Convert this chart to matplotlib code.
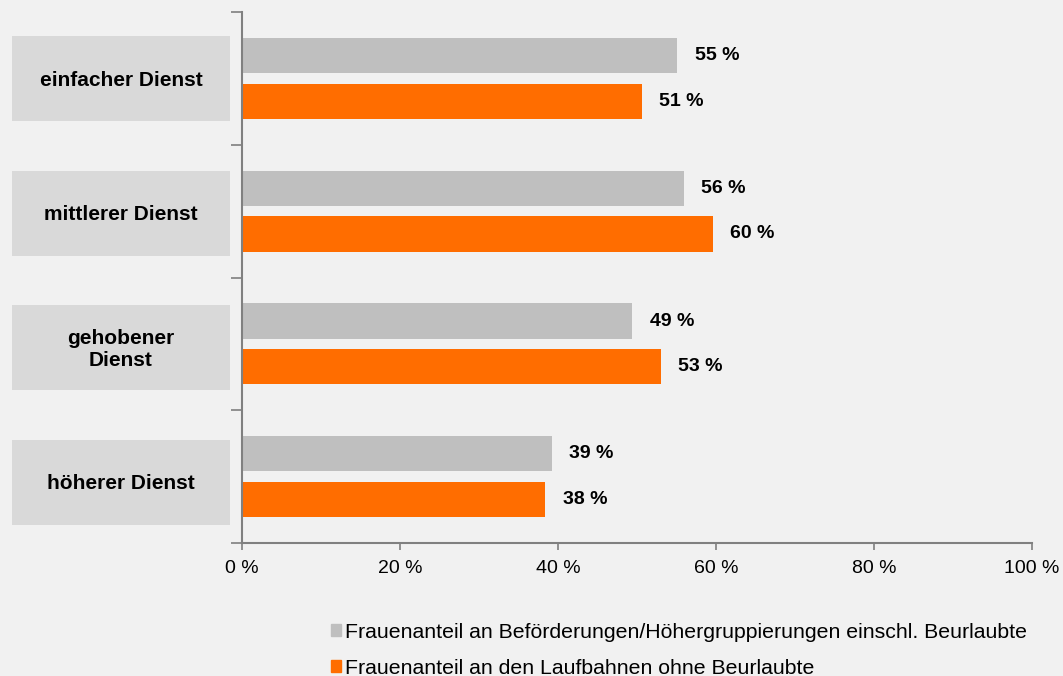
#!/usr/bin/env python3

import matplotlib.pyplot as plt
import matplotlib.transforms as mtransforms
from matplotlib.patches import Rectangle, Patch

plt.rcParams['font.family'] = ['Liberation Sans', 'DejaVu Sans']

categories = ['einfacher Dienst', 'mittlerer Dienst', 'gehobener\nDienst', 'höherer Dienst']
befoerderung = [55.1, 55.9, 49.4, 39.2]
laufbahn = [50.6, 59.6, 53.0, 38.4]
label_befoerderung = 'Frauenanteil an Beförderungen/Höhergruppierungen einschl. Beurlaubte'
label_laufbahn = 'Frauenanteil an den Laufbahnen ohne Beurlaubte'
xticks = [0, 20, 40, 60, 80, 100]

bg = '#f1f1f1'
gray = '#bfbfbf'
orange = '#ff6d00'

fig = plt.figure(figsize=(10.63, 6.76), dpi=100, facecolor=bg)
ax = fig.add_axes([242 / 1063, 1 - 543 / 676, 790 / 1063, 531 / 676])
ax.set_facecolor(bg)

ypos = list(range(len(categories)))
h = 0.265
off = 0.172
ax.barh([y - off for y in ypos], befoerderung, height=h, color=gray, label=label_befoerderung)
ax.barh([y + off for y in ypos], laufbahn, height=h, color=orange, label=label_laufbahn)

for y, v in zip(ypos, befoerderung):
    ax.text(v + 2.2, y - off, f'{v:.0f} %', va='center', ha='left', fontsize=14, fontweight='bold')
for y, v in zip(ypos, laufbahn):
    ax.text(v + 2.2, y + off, f'{v:.0f} %', va='center', ha='left', fontsize=14, fontweight='bold')

ax.set_xlim(0, 100)
ax.set_ylim(len(categories) - 0.5, -0.5)
ax.set_xticks(xticks)
ax.set_xticklabels([f'{t} %' for t in xticks], fontsize=14)
ax.set_yticks([y - 0.5 for y in range(len(categories) + 1)])
ax.set_yticklabels([])
ax.tick_params(axis='y', length=8, color='#808080', width=1.2)
ax.tick_params(axis='x', length=5, color='#808080', width=1.2, pad=7)
for s in ['top', 'right']:
    ax.spines[s].set_visible(False)
for s in ['left', 'bottom']:
    ax.spines[s].set_color('#808080')
    ax.spines[s].set_linewidth(1.5)

# grey boxes with the category names (slightly wider spacing than the bars)
trans = mtransforms.blended_transform_factory(ax.transAxes, ax.transData)
bx = (12 - 242) / 790
bw = 218 / 790
bh = 0.64
for y, name in zip(ypos, categories):
    yc = y * 1.013 + 0.004
    ax.add_patch(Rectangle((bx, yc - bh / 2), bw, bh, transform=trans,
                           facecolor='#d9d9d9', edgecolor='none', clip_on=False))
    ax.text(bx + bw / 2, yc + 0.01, name, transform=trans, ha='center', va='center',
            fontsize=15, fontweight='bold', linespacing=1.2)

handles = [Patch(color=gray, label=label_befoerderung), Patch(color=orange, label=label_laufbahn)]
fig.legend(handles=handles, loc='upper left', bbox_to_anchor=(322 / 1063, 1 - 614 / 676),
           frameon=False, fontsize=15.3, handlelength=0.5, handleheight=0.5,
           handletextpad=0.2, labelspacing=0.8, borderaxespad=0)

fig.savefig('out.png', dpi=100, facecolor=bg)
